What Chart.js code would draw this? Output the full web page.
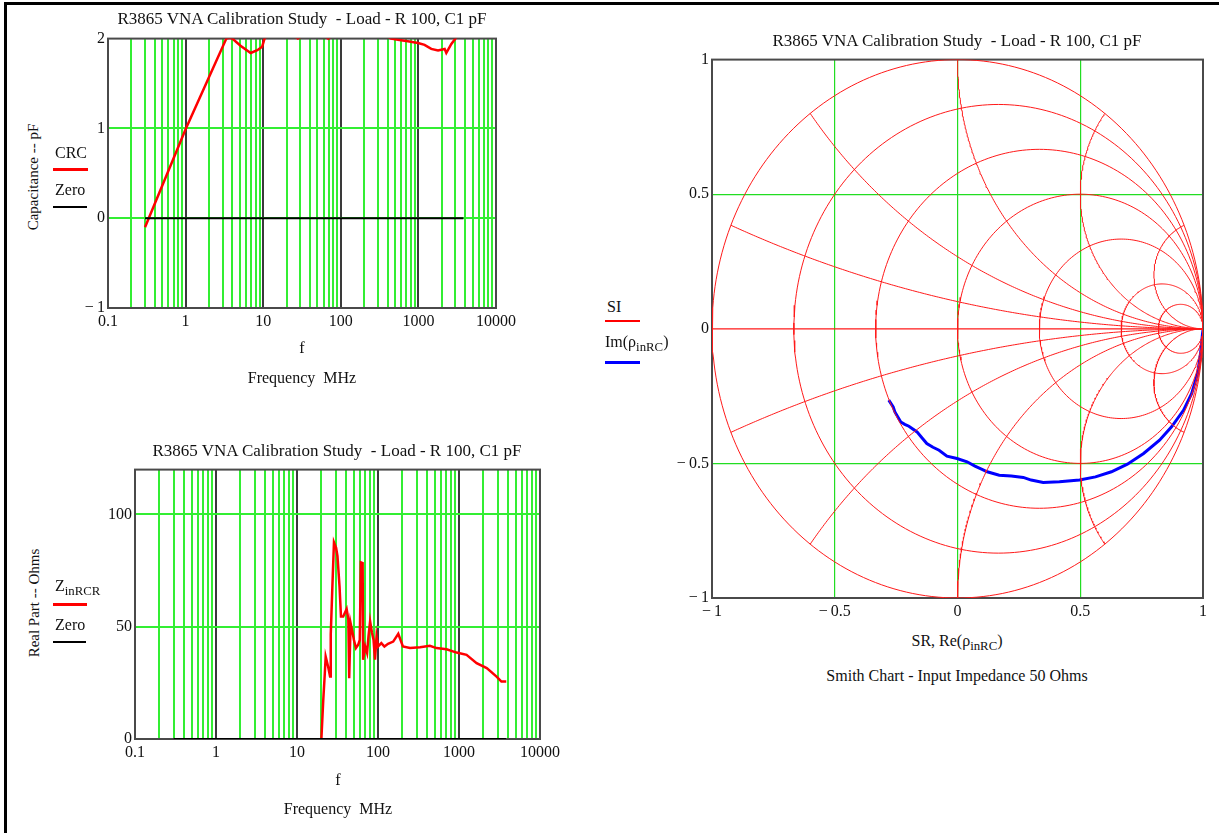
<!DOCTYPE html>
<html>
<head>
<meta charset="utf-8">
<title>R3865 VNA Calibration Study</title>
<script src="https://cdn.jsdelivr.net/npm/chart.js@4.4.1/dist/chart.umd.min.js"></script>
<style>
  body { margin: 0; background: #fff; font-family: "Liberation Serif", "Times New Roman", serif; color: #111; }
  #page { position: relative; width: 1219px; height: 833px; overflow: hidden; background: #fff; }
  #frame { position: absolute; left: 4px; top: 2px; width: 1240px; height: 850px; border-left: 3px solid #000; border-top: 3px solid #000; }
  canvas { position: absolute; }
  .t { position: absolute; white-space: nowrap; line-height: 1; font-size: 16px; }
  .c { transform: translate(-50%, -50%); }
  .l { transform: translate(0, -50%); }
  .rot { transform: translate(-50%, -50%) rotate(-90deg); font-size: 15px; }
  .title { font-size: 17px; }
  .key { position: absolute; }
  sub { font-size: 0.8em; vertical-align: -0.35em; line-height: 0; }
</style>
</head>
<body>
<div id="page">
  <div id="frame"></div>

  <!-- top left: capacitance -->
  <canvas id="capChart" width="484" height="316" style="left:56px; top:26px;"></canvas>
  <div class="t c title" style="left:302px; top:18px;">R3865 VNA Calibration Study &nbsp;- Load - R 100, C1 pF</div>
  <div class="t rot" style="left:33px; top:177px;">Capacitance -- pF</div>
  <div class="t l" style="left:55px; top:153px;">CRC</div>
  <div class="key" style="left:53px; top:168px; width:35px; height:3px; background:#ff0000;"></div>
  <div class="t l" style="left:55px; top:190px;">Zero</div>
  <div class="key" style="left:53px; top:206px; width:34px; height:2px; background:#000;"></div>
  <div class="t c" style="left:302px; top:348px;">f</div>
  <div class="t c" style="left:302px; top:378px;">Frequency &nbsp;MHz</div>

  <!-- bottom left: real part -->
  <canvas id="zinChart" width="487" height="316" style="left:83px; top:457px;"></canvas>
  <div class="t c title" style="left:337px; top:450px;">R3865 VNA Calibration Study &nbsp;- Load - R 100, C1 pF</div>
  <div class="t rot" style="left:34px; top:603px;">Real Part -- Ohms</div>
  <div class="t l" style="left:55px; top:586px;">Z<sub>inRCR</sub></div>
  <div class="key" style="left:53px; top:603px; width:34px; height:3px; background:#ff0000;"></div>
  <div class="t l" style="left:55px; top:625px;">Zero</div>
  <div class="key" style="left:53px; top:641px; width:33px; height:2px; background:#000;"></div>
  <div class="t c" style="left:338px; top:780px;">f</div>
  <div class="t c" style="left:338px; top:809px;">Frequency &nbsp;MHz</div>

  <!-- right: smith chart -->
  <canvas id="smithChart" width="559" height="585" style="left:660px; top:47px;"></canvas>
  <div class="t c title" style="left:957px; top:40px;">R3865 VNA Calibration Study &nbsp;- Load - R 100, C1 pF</div>
  <div class="t l" style="left:607px; top:307px;">SI</div>
  <div class="key" style="left:605px; top:320px; width:35px; height:2px; background:#ff0000;"></div>
  <div class="t l" style="left:605px; top:342px;">Im(ρ<sub>inRC</sub>)</div>
  <div class="key" style="left:605px; top:361px; width:35px; height:3px; background:#0000ff;"></div>
  <div class="t c" style="left:957px; top:641px;">SR, Re(ρ<sub>inRC</sub>)</div>
  <div class="t c" style="left:957px; top:676px;">Smith Chart - Input Impedance 50 Ohms</div>
</div>

<script>
// tick labels / grid values
const freqDecades = [0.1, 1, 10, 100, 1000, 10000];
const capTicks = [-1, 0, 1, 2];
const ohmTicks = [0, 50, 100];
const smithTicks = [-1, -0.5, 0, 0.5, 1];

// capacitance CRC (pF) vs frequency (MHz)
const crcFreq = [0.3, 1, 2, 3.35, 3.7, 4.0, 5.1, 6.9, 8.4, 9.7, 10.4, 13, 18, 28, 40, 55, 69, 95, 160, 280, 445, 570, 730, 990, 1200, 1465, 1790, 2180, 2290, 2660, 3000, 3400, 3800];
const crcPf = [-0.1, 0.99, 1.57, 2.0, 2.01, 2.0, 1.92, 1.84, 1.87, 1.91, 2.0, 2.1, 2.12, 2.0, 2.08, 2.06, 2.0, 2.1, 2.15, 2.1, 2.0, 1.985, 1.97, 1.95, 1.93, 1.885, 1.867, 1.885, 1.84, 1.94, 2.0, 2.1, 2.15];

// zero reference
const zeroFreq = [0.3, 3800];
const zeroVal = [0, 0];

// real part of Zin (Ohms) vs frequency (MHz)
const zinFreq = [20.0, 20.5, 21.1, 22.0, 22.6, 24.2, 25.6, 26.1, 27.3, 28.6, 30.4, 31.6, 33.5, 34.9, 37.2, 41.0, 43.0, 44.1, 45.9, 48.6, 50.4, 53.4, 57.0, 59.6, 61.4, 64.6, 65.5, 69.5, 73.3, 76.3, 79.9, 84.4, 88.0, 91.9, 95.9, 100, 110, 120, 133, 154, 178, 203, 248, 331, 437, 528, 703, 935, 1240, 1650, 2200, 2910, 3340, 3830];
const zinOhms = [0, 8, 17.4, 28.6, 36.7, 32.3, 27.8, 46.4, 67.3, 87.6, 85.1, 81.4, 68, 54.6, 54.6, 57.9, 53.4, 27.1, 51.6, 47.2, 44.2, 40.5, 42, 44.2, 78.7, 78.4, 35.3, 41.2, 38.3, 45.7, 52.4, 47.2, 44.2, 35.3, 45.7, 41.2, 42.7, 41.2, 42.4, 43.4, 46.9, 41.2, 40.5, 40.9, 41.5, 40.5, 40, 38.5, 37.5, 33.8, 31.6, 27.8, 25.6, 25.6];

// reflection coefficient rho_inRC
const rhoRe = [-0.280, -0.262, -0.255, -0.231, -0.215, -0.198, -0.165, -0.145, -0.125, -0.100, -0.075, -0.043, -0.002, 0.039, 0.071, 0.100, 0.121, 0.170, 0.219, 0.268, 0.300, 0.349, 0.415, 0.497, 0.562, 0.627, 0.692, 0.758, 0.823, 0.872, 0.921, 0.954, 0.978, 0.990, 0.998, 1.0];
const rhoIm = [-0.265, -0.290, -0.309, -0.346, -0.355, -0.362, -0.383, -0.405, -0.426, -0.440, -0.451, -0.473, -0.482, -0.494, -0.510, -0.522, -0.531, -0.544, -0.547, -0.552, -0.562, -0.571, -0.568, -0.562, -0.550, -0.531, -0.503, -0.463, -0.414, -0.364, -0.302, -0.240, -0.166, -0.092, -0.018, -0.004];

// smith chart grid: constant resistance circles and reactance arcs
const smithR = [0, 0.2, 0.5, 1, 2, 5, 10];
const smithX = [0.2, 0.5, 1, 2, 5];

Chart.defaults.font.family = '"Liberation Serif", "Times New Roman", serif';
Chart.defaults.font.size = 16;
Chart.defaults.color = '#111';
Chart.defaults.animation = false;

const GREEN = '#33ee33';
const DECADE = '#3a3a3a';
const NONE = 'rgba(0,0,0,0)';

// every 1..9 x decade for the log grid
const freqGrid = [];
for (let i = 0; i < freqDecades.length - 1; i++) {
    for (let k = 1; k <= 9; k++) freqGrid.push(k * freqDecades[i]);
}
freqGrid.push(freqDecades[freqDecades.length - 1]);

function isDecade(v) {
    const l = Math.log10(v);
    return Math.abs(l - Math.round(l)) < 1e-9;
}

function fmtNum(v) {
    return v < 0 ? '\u2212\u2009' + Math.abs(v) : String(v);
}

function pts(xs, ys) {
    return xs.map((x, i) => ({ x: x, y: ys[i] }));
}

// box around the plot area
const framePlugin = {
    id: 'frame',
    beforeDatasetsDraw(chart) {
        const a = chart.chartArea;
        const ctx = chart.ctx;
        ctx.save();
        ctx.strokeStyle = '#4a4a4a';
        ctx.lineWidth = 2;
        ctx.strokeRect(a.left, a.top, a.right - a.left, a.bottom - a.top);
        ctx.restore();
    }
};

function logXAxis() {
    return {
        type: 'logarithmic',
        min: 0.1,
        max: 10000,
        afterBuildTicks: s => { s.ticks = freqGrid.map(v => ({ value: v })); },
        afterFit: s => { s.height = 34; },
        border: { display: false },
        grid: {
            drawTicks: false,
            lineWidth: 2,
            color: c => {
                if (!c.tick) return NONE;
                const v = c.tick.value;
                if (v <= 0.1 + 1e-9 || v >= 10000 - 1e-6) return NONE;
                return isDecade(v) ? DECADE : GREEN;
            }
        },
        ticks: {
            autoSkip: false,
            maxRotation: 0,
            padding: 4,
            color: '#111',
            callback: v => isDecade(v) ? String(+v.toPrecision(3)) : ''
        }
    };
}

function linYAxis(min, max, tickVals) {
    return {
        type: 'linear',
        min: min,
        max: max,
        afterBuildTicks: s => { s.ticks = tickVals.map(v => ({ value: v })); },
        afterFit: s => { s.width = 52; },
        border: { display: false },
        grid: {
            drawTicks: false,
            lineWidth: 2,
            color: c => (c.tick && c.tick.value > min && c.tick.value < max) ? GREEN : NONE
        },
        ticks: { padding: 3, color: '#111', callback: v => fmtNum(v) }
    };
}

function lineSet(data, color, width) {
    return {
        data: data,
        showLine: true,
        borderColor: color,
        backgroundColor: color,
        borderWidth: width,
        pointRadius: 0,
        tension: 0
    };
}

const basePlugins = { legend: { display: false }, tooltip: { enabled: false } };

// Capacitance chart
new Chart(document.getElementById('capChart'), {
    type: 'scatter',
    data: {
        datasets: [
            lineSet(pts(zeroFreq, zeroVal), '#000000', 2),
            lineSet(pts(crcFreq, crcPf), '#ff0000', 2.5)
        ]
    },
    options: {
        responsive: false,
        layout: { padding: { top: 12, right: 44, bottom: 0, left: 0 } },
        scales: { x: logXAxis(), y: linYAxis(-1, 2, capTicks) },
        plugins: basePlugins
    },
    plugins: [framePlugin]
});

// Real part chart
new Chart(document.getElementById('zinChart'), {
    type: 'scatter',
    data: {
        datasets: [
            lineSet(pts(zeroFreq, zeroVal), '#000000', 2),
            lineSet(pts(zinFreq, zinOhms), '#ff0000', 2.5)
        ]
    },
    options: {
        responsive: false,
        layout: { padding: { top: 12, right: 30, bottom: 0, left: 0 } },
        scales: { x: logXAxis(), y: linYAxis(0, 120, ohmTicks) },
        plugins: basePlugins
    },
    plugins: [framePlugin]
});

// Smith chart grid curves
function rCircle(r) {
    const cx = r / (r + 1), rad = 1 / (r + 1), out = [];
    for (let i = 0; i <= 240; i++) {
        const a = 2 * Math.PI * i / 240;
        out.push({ x: cx + rad * Math.cos(a), y: rad * Math.sin(a) });
    }
    return out;
}

function xArc(x) {
    const s = Math.sign(x), ax = Math.abs(x), rad = 1 / ax;
    const dx = -2 / (ax * ax + 1);
    const dy = (ax * ax - 1) / (ax * (ax * ax + 1));
    let end = Math.atan2(dy, dx);
    if (end > -Math.PI / 2) end -= 2 * Math.PI;
    const out = [];
    for (let i = 0; i <= 200; i++) {
        const a = -Math.PI / 2 + (end + Math.PI / 2) * i / 200;
        out.push({ x: 1 + rad * Math.cos(a), y: s * (rad + rad * Math.sin(a)) });
    }
    return out;
}

const smithSets = [];
smithR.forEach(r => smithSets.push(lineSet(rCircle(r), '#ff1a1a', 1)));
smithSets.push(lineSet([{ x: -1, y: 0 }, { x: 1, y: 0 }], '#ff1a1a', 1.2));
smithX.forEach(x => {
    smithSets.push(lineSet(xArc(x), '#ff1a1a', 1));
    smithSets.push(lineSet(xArc(-x), '#ff1a1a', 1));
});
smithSets.push(lineSet(pts(rhoRe, rhoIm), '#0000ff', 3));

function smithAxis(isX) {
    const ax = {
        type: 'linear',
        min: -1,
        max: 1,
        afterBuildTicks: s => { s.ticks = smithTicks.map(v => ({ value: v })); },
        border: { display: false },
        grid: {
            drawTicks: false,
            lineWidth: 1.2,
            color: c => {
                if (!c.tick || Math.abs(c.tick.value) >= 1) return NONE;
                // the real axis itself is drawn red
                if (!isX && c.tick.value === 0) return NONE;
                return '#22dd22';
            }
        },
        ticks: { padding: isX ? 4 : 3, color: '#111', callback: v => fmtNum(v) }
    };
    if (isX) ax.afterFit = s => { s.height = 34; };
    else ax.afterFit = s => { s.width = 52; };
    return ax;
}

new Chart(document.getElementById('smithChart'), {
    type: 'scatter',
    data: { datasets: smithSets },
    options: {
        responsive: false,
        layout: { padding: { top: 12, right: 16, bottom: 0, left: 0 } },
        scales: { x: smithAxis(true), y: smithAxis(false) },
        plugins: basePlugins
    },
    plugins: [framePlugin]
});
</script>
</body>
</html>
